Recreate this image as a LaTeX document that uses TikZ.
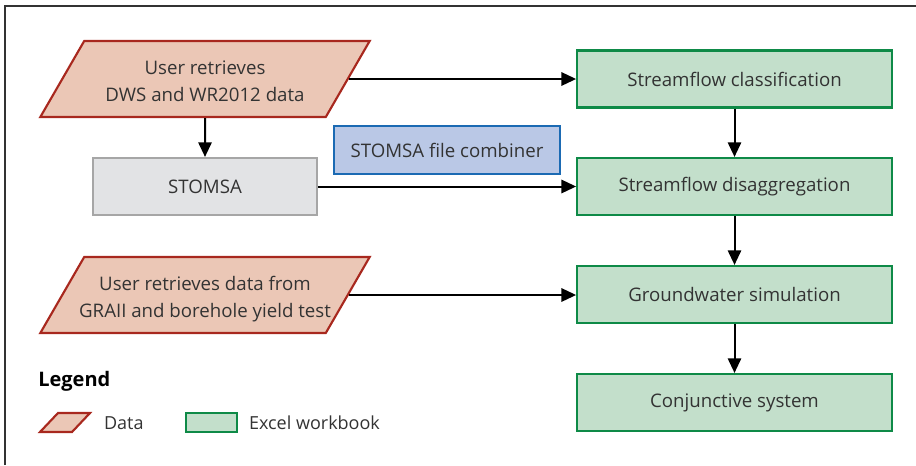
\documentclass[tikz,border=0pt]{standalone}
\usepackage{fontspec}
\setmainfont{Open Sans}
\usetikzlibrary{
    positioning,
    calc,
    shapes.geometric,
    arrows.meta
}
\definecolor{DataFill}{HTML}{EBC7B6}
\definecolor{DataLine}{HTML}{A8281E}
\definecolor{ToolFill}{HTML}{E2E3E5}
\definecolor{ToolLine}{HTML}{A6A6A6}
\definecolor{CombFill}{HTML}{BAC8E6}
\definecolor{CombLine}{HTML}{1B6AB3}
\definecolor{BookFill}{HTML}{C3DFCB}
\definecolor{BookLine}{HTML}{0E8A47}
\definecolor{TextGray}{HTML}{333333}

% lines in a data box may run into the slanted sides
\newcommand{\dataline}[1]{\makebox[170pt]{#1}}

\tikzset{
    base/.style={
        line width=1.6pt,
        text=TextGray,
        font=\fontsize{14}{20}\selectfont,
        align=center,
        inner sep=2pt
    },
    databox/.style={
        base,
        draw=DataLine,
        fill=DataFill,
        trapezium,
        trapezium left angle=60,
        trapezium right angle=120,
        trapezium stretches body,
        text height=43.25pt,
        text depth=9.75pt,
        minimum width=247pt
    },
    toolbox/.style={
        base,
        draw=ToolLine,
        fill=ToolFill,
        minimum width=168pt,
        minimum height=42.75pt
    },
    combbox/.style={
        base,
        draw=CombLine,
        fill=CombFill,
        minimum width=169pt,
        minimum height=36pt
    },
    bookbox/.style={
        base,
        draw=BookLine,
        fill=BookFill,
        minimum width=236pt,
        minimum height=42.75pt
    },
    flow/.style={
        line width=1.5pt,
        -{Triangle[length=11pt,width=10pt]}
    }
}

\begin{document}
\begin{tikzpicture}[x=0.75pt,y=-0.75pt]

    \useasboundingbox (0,0) rectangle (916,465);

    % frame
    \draw[line width=1.2pt,TextGray] (5,465) -- (5,6) -- (916,6);

    % inputs
    \node[databox] (dws) at (205,79) {\dataline{User retrieves}\\\dataline{DWS and WR2012 data}};
    \node[databox] (grail) at (205,295) {\dataline{User retrieves data from}\\\dataline{GRAII and borehole yield test}};
    \node[toolbox] (stomsa) at (205,186.5) {STOMSA};
    \node[combbox] (combiner) at (447,150) {STOMSA file combiner};

    % workbooks
    \node[bookbox] (classif) at (734.5,79) {Streamflow classification};
    \node[bookbox] (disagg) at (734.5,186.5) {Streamflow disaggregation};
    \node[bookbox] (gwsim) at (734.5,294.5) {Groundwater simulation};
    \node[bookbox] (conj) at (734.5,402.5) {Conjunctive system};

    % connectors
    \draw[flow] (dws) -- (stomsa);
    \draw[flow] (dws.east) -- (dws.east -| classif.west);
    \draw[flow] (stomsa) -- (disagg);
    \draw[flow] (grail.east) -- (grail.east -| gwsim.west);
    \draw[flow] (classif) -- (disagg);
    \draw[flow] (disagg) -- (gwsim);
    \draw[flow] (gwsim) -- (conj);

    % legend
    \node[anchor=west,text=black,font=\fontsize{15}{18}\selectfont\bfseries,inner sep=0pt] (legtitle) at (38,381) {Legend};
    \draw[line width=1.6pt,draw=DataLine,fill=DataFill] (40,432) -- (58,413) -- (90,413) -- (72,432) -- cycle;
    \node[base,anchor=west,inner sep=0pt,font=\fontsize{13.5}{16}\selectfont] (legdatatxt) at (103,423) {Data};
    \node[base,draw=BookLine,fill=BookFill,minimum width=38pt,minimum height=14pt,inner sep=0pt] (legbook) at (211.5,422.5) {};
    \node[base,anchor=west,inner sep=0pt,font=\fontsize{13.5}{16}\selectfont] (legbooktxt) at (248,423) {Excel workbook};

\end{tikzpicture}
\end{document}
